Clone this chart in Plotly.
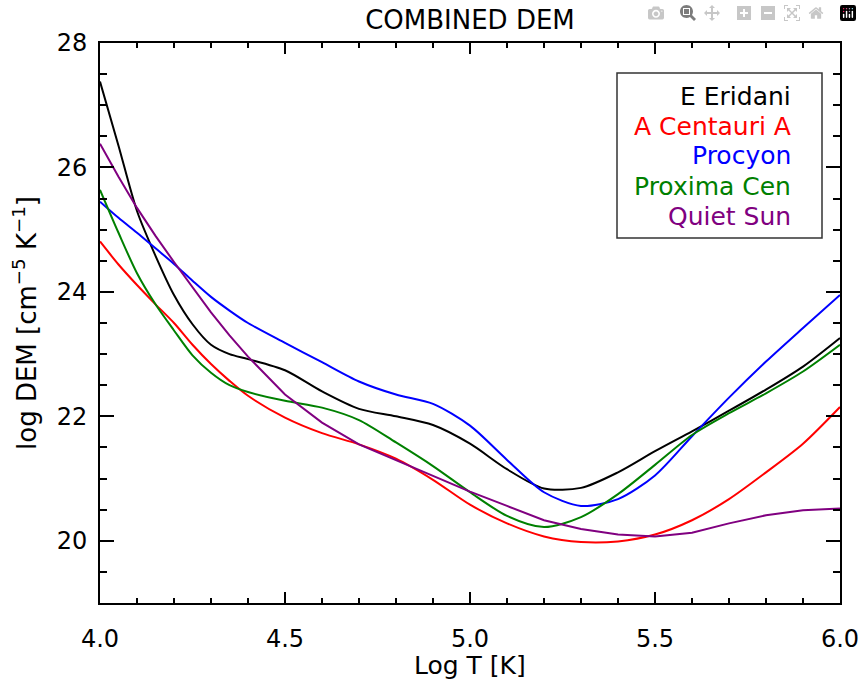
import plotly.graph_objects as go

log_t = [4.0, 4.05, 4.1, 4.15, 4.2, 4.25, 4.3, 4.35, 4.4, 4.5, 4.6, 4.7, 4.8, 4.9, 5.0,
         5.1, 5.2, 5.3, 5.4, 5.5, 5.6, 5.7, 5.8, 5.9, 6.0]

eps_eri = [27.38, 26.35, 25.30, 24.58, 23.95, 23.48, 23.15, 23.00, 22.92, 22.74, 22.40,
           22.12, 22.00, 21.86, 21.56, 21.15, 20.84, 20.85, 21.10, 21.44, 21.76, 22.09,
           22.43, 22.80, 23.26]
alpha_cen = [24.81, 24.44, 24.11, 23.80, 23.50, 23.15, 22.84, 22.57, 22.33, 21.98, 21.73,
             21.55, 21.32, 20.98, 20.58, 20.28, 20.07, 19.98, 19.99, 20.10, 20.33, 20.67,
             21.10, 21.56, 22.15]
procyon = [25.45, 25.19, 24.95, 24.70, 24.45, 24.18, 23.92, 23.70, 23.50, 23.18, 22.87,
           22.56, 22.35, 22.20, 21.85, 21.30, 20.78, 20.56, 20.67, 21.05, 21.68, 22.30,
           22.88, 23.42, 23.95]
proxima = [25.64, 24.95, 24.30, 23.80, 23.38, 22.98, 22.70, 22.50, 22.39, 22.25, 22.14,
           21.94, 21.58, 21.20, 20.78, 20.40, 20.22, 20.38, 20.75, 21.22, 21.70, 22.05,
           22.37, 22.72, 23.15]
quiet_sun = [26.38, 25.85, 25.35, 24.90, 24.48, 24.07, 23.67, 23.30, 22.96, 22.35, 21.90,
             21.55, 21.30, 21.05, 20.79, 20.56, 20.33, 20.19, 20.10, 20.07, 20.13, 20.28,
             20.41, 20.49, 20.52]

names = ["E Eridani", "A Centauri A", "Procyon", "Proxima Cen", "Quiet Sun"]
series = [eps_eri, alpha_cen, procyon, proxima, quiet_sun]
colors = ["#000000", "#ff0000", "#0000ff", "#008000", "#800080"]
shapes_ = ["spline", "spline", "spline", "spline", "linear"]

FONT = "DejaVu Sans"

fig = go.Figure()
for n, s, c, sh in zip(names, series, colors, shapes_):
    fig.add_trace(go.Scatter(x=log_t, y=s, mode="lines", name=n,
                             line=dict(color=c, width=2, shape=sh, smoothing=0.8),
                             showlegend=False))

W = 862
H = 684
fig.update_layout(
    width=W, height=H,
    margin=dict(l=100, r=22, t=43, b=H - 43 - 560),
    paper_bgcolor="white", plot_bgcolor="white",
    font=dict(family=FONT, size=24, color="black"),
    title=dict(text="COMBINED DEM", xref="paper", x=0.5, xanchor="center",
               y=1 - 20 / H, yanchor="middle",
               font=dict(family=FONT, size=26, color="black")),
    xaxis=dict(range=[4.0, 6.0], dtick=0.5, tick0=4.0, tickformat=".1f",
               ticks="inside", ticklen=11, tickwidth=2, tickcolor="black",
               showline=True, linewidth=2, linecolor="black", mirror="ticks",
               showgrid=False, zeroline=False, ticklabelstandoff=13, automargin=False,
               ticklabeloverflow="allow",
               minor=dict(dtick=0.1, ticks="inside", ticklen=5, tickwidth=2,
                          tickcolor="black", showgrid=False),
               tickfont=dict(family=FONT, size=24)),
    yaxis=dict(range=[19, 28], dtick=2, tick0=20,
               ticks="inside", ticklen=14, tickwidth=2, tickcolor="black",
               showline=True, linewidth=2, linecolor="black", mirror="ticks",
               showgrid=False, zeroline=False, ticklabelstandoff=6, automargin=False,
               ticklabeloverflow="allow",
               minor=dict(dtick=0.5, ticks="inside", ticklen=7, tickwidth=2,
                          tickcolor="black", showgrid=False),
               tickfont=dict(family=FONT, size=24)),
)

# axis titles
fig.add_annotation(text="Log T [K]", xref="paper", yref="paper", x=0.5, y=0,
                   xanchor="center", yanchor="middle", yshift=-62,
                   showarrow=False, font=dict(family=FONT, size=25, color="black"))
fig.add_annotation(text="log DEM [cm<sup>\u22125</sup> K<sup>\u22121</sup>]",
                   xref="paper", yref="paper", x=0, y=0.5, textangle=-90,
                   xanchor="center", yanchor="middle", xshift=-75, showarrow=False,
                   font=dict(family=FONT, size=26, color="black"))

# legend box with right-aligned coloured labels
x0p = (617 - 100) / 740
x1p = (822 - 100) / 740
y0p = (603 - 238) / 560
y1p = (603 - 73) / 560
fig.add_shape(type="rect", xref="paper", yref="paper", x0=x0p, x1=x1p, y0=y0p, y1=y1p,
              line=dict(color="#333333", width=1.5), fillcolor="rgba(0,0,0,0)")
for i, (n, c) in enumerate(zip(names, colors)):
    ypix = 96 + 30 * i
    fig.add_annotation(text=n, xref="paper", yref="paper",
                       x=(793 - 100) / 740, y=(603 - ypix) / 560,
                       xanchor="right", yanchor="middle", showarrow=False,
                       font=dict(family=FONT, size=25, color=c))

fig.write_html(
    "out.html",
    post_script="document.body.style.margin='0';"
                "document.documentElement.style.overflow='hidden';"
                "document.body.style.overflow='hidden';",
)
